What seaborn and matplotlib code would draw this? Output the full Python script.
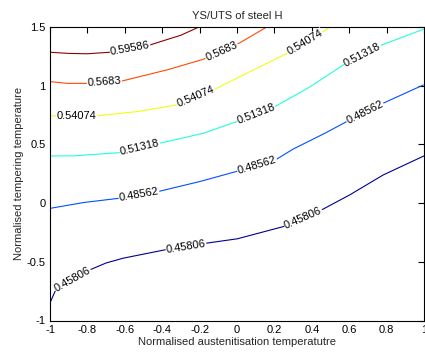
import numpy as np
import pandas as pd
import matplotlib
matplotlib.use("Agg")
import matplotlib.pyplot as plt
from matplotlib.ticker import FormatStrFormatter
import seaborn as sns

sns.set_theme(style="white")
plt.rcParams["font.family"] = ["Liberation Sans", "DejaVu Sans"]
plt.rcParams["axes.unicode_minus"] = False

# Contour levels of YS/UTS and the traced path of each iso-line
levels = [0.45806, 0.48562, 0.51318, 0.54074, 0.5683, 0.59586]

x_0458 = [-1, -0.973, -0.9, -0.786, -0.7, -0.608, -0.385, -0.162, 0.002, 0.248, 0.462, 0.604, 0.782, 1.0]
y_0458 = [-0.85, -0.752, -0.665, -0.568, -0.51, -0.469, -0.398, -0.341, -0.304, -0.2, -0.05, 0.071, 0.24, 0.402]

x_0486 = [-1, -0.82, -0.626, -0.42, -0.198, -0.002, 0.212, 0.30, 0.47, 0.586, 0.782, 0.996]
y_0486 = [-0.045, 0.005, 0.042, 0.099, 0.184, 0.27, 0.374, 0.46, 0.595, 0.694, 0.851, 1.006]

x_0513 = [-1, -0.875, -0.626, -0.412, -0.18, -0.002, 0.203, 0.39, 0.569, 0.774, 0.996]
y_0513 = [0.402, 0.402, 0.43, 0.51, 0.595, 0.694, 0.822, 0.99, 1.177, 1.347, 1.48]

x_0541 = [-1, -0.75, -0.536, -0.322, -0.109, 0.07, 0.257, 0.46, 0.497]
y_0541 = [0.743, 0.743, 0.779, 0.836, 0.978, 1.12, 1.267, 1.46, 1.5]

x_0568 = [-1, -0.91, -0.8, -0.615, -0.376, -0.18, 0.016, 0.159]
y_0568 = [1.035, 1.02, 1.02, 1.04, 1.134, 1.225, 1.366, 1.5]

x_0596 = [-1, -0.9, -0.8, -0.68, -0.465, -0.41, -0.3, -0.203]
y_0596 = [1.285, 1.275, 1.272, 1.285, 1.347, 1.375, 1.43, 1.5]

paths = [(x_0458, y_0458), (x_0486, y_0486), (x_0513, y_0513),
         (x_0541, y_0541), (x_0568, y_0568), (x_0596, y_0596)]

# where along each line the inline value label sits (x position)
label_x = [[-0.88, -0.273, 0.353],
           [-0.524, 0.107, 0.684],
           [-0.519, 0.102, 0.671],
           [-0.856, -0.219, 0.364],
           [-0.709, -0.083],
           [-0.572]]

line_colors = ["#00008F", "#0050FF", "#20FFD8", "#EEFF10", "#FF4A00", "#8F0000"]

x_ticks = [-1, -0.8, -0.6, -0.4, -0.2, 0, 0.2, 0.4, 0.6, 0.8, 1]
y_ticks = [-1, -0.5, 0, 0.5, 1, 1.5]

rows = []
for lev, (xs, ys) in zip(levels, paths):
    for i, (xv, yv) in enumerate(zip(xs, ys)):
        rows.append({"level": lev, "order": i, "x": xv, "y": yv})
df = pd.DataFrame(rows)

fig = plt.figure(figsize=(4.25, 3.56), dpi=100)
ax = fig.add_axes([50 / 425, 1 - 320.5 / 356, 374 / 425, 293.5 / 356])

sns.lineplot(data=df, x="x", y="y", hue="level", palette=line_colors,
             sort=False, estimator=None, legend=False, linewidth=0.8, ax=ax)

ax.set_xlim(-1, 1)
ax.set_ylim(-1, 1.5)
ax.set_xticks(x_ticks)
ax.set_yticks(y_ticks)
ax.xaxis.set_major_formatter(FormatStrFormatter("%g"))
ax.yaxis.set_major_formatter(FormatStrFormatter("%g"))
ax.tick_params(direction="in", length=4, width=0.8, labelsize=8, colors="black",
               top=True, right=True, pad=3)
for sp in ax.spines.values():
    sp.set_color("black")
    sp.set_linewidth(0.8)

ax.set_title("YS/UTS of steel H", fontsize=8, pad=6)
ax.set_xlabel("Normalised austenitisation temperatutre", fontsize=8, labelpad=2)
ax.set_ylabel("Normalised tempering temperature", fontsize=8, labelpad=2)

# inline value labels, rotated to follow each line
fig.canvas.draw()
for lev, (xs, ys), xl in zip(levels, paths, label_x):
    for xc in xl:
        yc = np.interp(xc, xs, ys)
        x0, x1 = xc - 0.03, xc + 0.03
        p0 = ax.transData.transform((x0, np.interp(x0, xs, ys)))
        p1 = ax.transData.transform((x1, np.interp(x1, xs, ys)))
        ang = np.degrees(np.arctan2(p1[1] - p0[1], p1[0] - p0[0]))
        ax.text(xc, yc, f"{lev:g}", fontsize=8, ha="center", va="center",
                rotation=ang, rotation_mode="anchor", color="black",
                bbox=dict(boxstyle="square,pad=0.05", fc="white", ec="none"),
                zorder=5)

fig.savefig("out.png", dpi=100)
